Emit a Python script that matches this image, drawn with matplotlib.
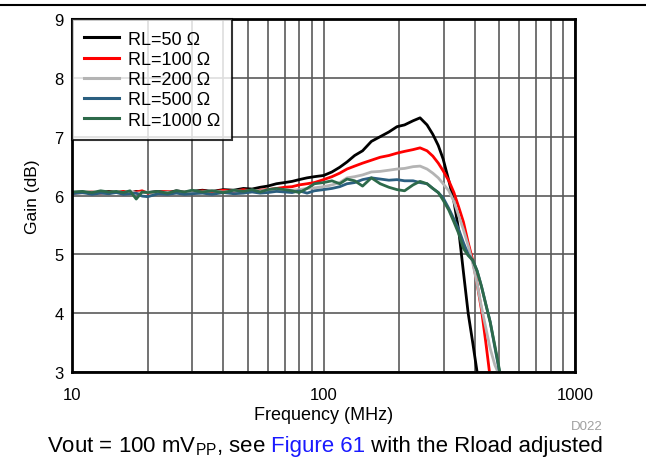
import numpy as np
import matplotlib.pyplot as plt
from matplotlib.ticker import LogLocator, NullFormatter, FixedLocator

plt.rcParams["font.family"] = ["Liberation Sans", "DejaVu Sans"]
plt.rcParams["mathtext.fontset"] = "custom"
plt.rcParams["mathtext.rm"] = "Liberation Sans"

# Frequency sweep points (MHz)
freq = [10, 11, 12, 13, 14, 15, 16, 17, 18, 19, 20, 22, 24, 26, 28, 30, 33, 36,
        40, 44, 48, 52, 56, 60, 65, 70, 75, 80, 86, 92, 100, 108, 116, 124, 133,
        143, 155, 168, 182, 196, 210, 227, 242, 258, 272, 286, 299, 315, 330,
        345, 360, 376, 392, 408, 425, 442, 460, 480, 505]

# Gain (dB) per load
gain_50 = [6.05, 6.06, 6.04, 6.05, 6.07, 6.05, 6.06, 6.04, 6.07, 6.06, 6.05,
           6.07, 6.05, 6.08, 6.06, 6.07, 6.09, 6.07, 6.10, 6.09, 6.12, 6.11,
           6.14, 6.16, 6.20, 6.22, 6.24, 6.27, 6.30, 6.32, 6.34, 6.40, 6.48,
           6.57, 6.68, 6.76, 6.92, 7.00, 7.08, 7.17, 7.20, 7.27, 7.32, 7.20,
           7.04, 6.85, 6.62, 6.25, 5.90, 5.40, 4.70, 4.00, 3.50, 3.00, 2.50,
           2.00, 1.50, 1.00, 0.50]
gain_100 = [6.04, 6.05, 6.06, 6.04, 6.06, 6.05, 6.07, 6.05, 6.06, 6.08, 6.04,
            6.06, 6.07, 6.05, 6.07, 6.06, 6.08, 6.06, 6.09, 6.07, 6.10, 6.08,
            6.09, 6.10, 6.12, 6.14, 6.15, 6.18, 6.20, 6.22, 6.27, 6.32, 6.38,
            6.45, 6.50, 6.55, 6.60, 6.65, 6.68, 6.72, 6.75, 6.78, 6.81, 6.76,
            6.67, 6.55, 6.42, 6.25, 6.05, 5.80, 5.55, 5.20, 4.90, 4.50, 4.05,
            3.50, 2.90, 2.40, 1.80]
gain_200 = [6.05, 6.04, 6.06, 6.05, 6.04, 6.06, 6.05, 6.07, 6.04, 6.05, 6.06,
            6.04, 6.06, 6.05, 6.07, 6.05, 6.06, 6.08, 6.06, 6.08, 6.07, 6.09,
            6.08, 6.09, 6.08, 6.10, 6.09, 6.10, 6.12, 6.13, 6.15, 6.18, 6.22,
            6.30, 6.32, 6.35, 6.40, 6.41, 6.43, 6.45, 6.46, 6.49, 6.50, 6.45,
            6.38, 6.30, 6.20, 6.08, 5.90, 5.65, 5.42, 5.15, 4.85, 4.50, 4.10,
            3.75, 3.40, 3.12, 2.90]
gain_500 = [6.03, 6.05, 6.02, 6.04, 6.03, 6.05, 6.02, 6.03, 6.04, 5.99, 5.98,
            6.03, 6.02, 6.04, 6.02, 6.03, 6.04, 6.02, 6.05, 6.03, 6.04, 6.06,
            6.04, 6.05, 6.07, 6.06, 6.05, 6.08, 6.04, 6.08, 6.10, 6.12, 6.15,
            6.20, 6.22, 6.27, 6.30, 6.28, 6.26, 6.27, 6.25, 6.25, 6.22, 6.20,
            6.12, 6.05, 5.96, 5.78, 5.60, 5.42, 5.20, 5.00, 4.90, 4.72, 4.45,
            4.15, 3.85, 3.42, 2.92]
gain_1000 = [6.06, 6.07, 6.05, 6.08, 6.06, 6.07, 6.05, 6.08, 5.94, 6.06, 6.05,
             6.07, 6.04, 6.08, 6.06, 6.09, 6.06, 6.08, 6.05, 6.09, 6.07, 6.10,
             6.06, 6.10, 6.12, 6.10, 6.08, 6.05, 6.12, 6.20, 6.22, 6.25, 6.20,
             6.28, 6.25, 6.16, 6.30, 6.20, 6.14, 6.10, 6.08, 6.18, 6.24, 6.20,
             6.12, 6.05, 5.92, 5.75, 5.55, 5.35, 5.10, 4.98, 4.90, 4.72, 4.45,
             4.15, 3.85, 3.45, 2.95]

series = [
    ("RL=50 \u03a9", gain_50, "#000000"),
    ("RL=100 \u03a9", gain_100, "#ff0000"),
    ("RL=200 \u03a9", gain_200, "#b4b4b4"),
    ("RL=500 \u03a9", gain_500, "#2b5f80"),
    ("RL=1000 \u03a9", gain_1000, "#2d6a4a"),
]

fig = plt.figure(figsize=(6.46, 4.64), dpi=100)
ax = fig.add_axes([0.1115, 0.1961, 0.7786, 0.7608])

for label, g, color in series:
    ax.plot(freq, g, color=color, linewidth=2.0, label=label)

ax.set_xscale("log")
ax.set_xlim(10, 1000)
ax.set_ylim(3, 9)
ax.xaxis.set_major_locator(FixedLocator([10, 100, 1000]))
ax.xaxis.set_major_formatter(plt.FuncFormatter(lambda v, p: f"{int(v)}"))
ax.xaxis.set_minor_locator(LogLocator(base=10, subs=np.arange(2, 10)))
ax.xaxis.set_minor_formatter(NullFormatter())
ax.set_yticks(range(3, 10))

ax.grid(True, which="both", axis="x", color="#5a5a5a", linewidth=1.2)
ax.grid(True, which="major", axis="y", color="#5a5a5a", linewidth=1.2)
ax.set_axisbelow(True)
ax.tick_params(which="both", length=0, labelsize=12)
ax.tick_params(axis="x", pad=11)
ax.tick_params(axis="y", pad=6)
for sp in ax.spines.values():
    sp.set_linewidth(2)

ax.set_xlabel("Frequency (MHz)", fontsize=13, labelpad=3)
ax.set_ylabel("Gain (dB)", fontsize=12.5, labelpad=10)

leg = ax.legend(loc="upper left", fontsize=13, frameon=True, fancybox=False,
                borderpad=0.65, labelspacing=0.18, handlelength=1.95,
                handletextpad=0.5, borderaxespad=0.0)
leg.get_frame().set_edgecolor("black")
leg.get_frame().set_linewidth(1.5)
for ln in leg.get_lines():
    ln.set_linewidth(2.2)

fig.text(587 / 646, 1 - 427 / 464, "D022", fontsize=9.5, color="#a0a0a0",
         ha="center", va="center")

# page header rule
fig.add_artist(plt.Line2D([0, 1], [1 - 6 / 464, 1 - 6 / 464], color="black",
                          linewidth=1.5))

# caption with a coloured cross-reference
cap_y = 1 - 452 / 464
parts = [("Vout = 100 mV$_{\\mathrm{PP}}$, see ", "black"),
         ("Figure 61", "#1a1aff"),
         (" with the Rload adjusted", "black")]
fig.canvas.draw()
renderer = fig.canvas.get_renderer()


def text_width(s):
    # measure with a trailing marker so that spaces at the ends are counted
    t = fig.text(0, 0, "|" + s + "|", fontsize=16)
    bar = fig.text(0, 0, "||", fontsize=16)
    w = t.get_window_extent(renderer).width - bar.get_window_extent(renderer).width
    t.remove()
    bar.remove()
    return w


widths = [text_width(s) for s, _ in parts]
x = 325 - sum(widths) / 2
for (s, c), w in zip(parts, widths):
    fig.text(x / 646, cap_y, s, fontsize=16, color=c, va="baseline")
    x += w

fig.savefig("out.png", dpi=100)
